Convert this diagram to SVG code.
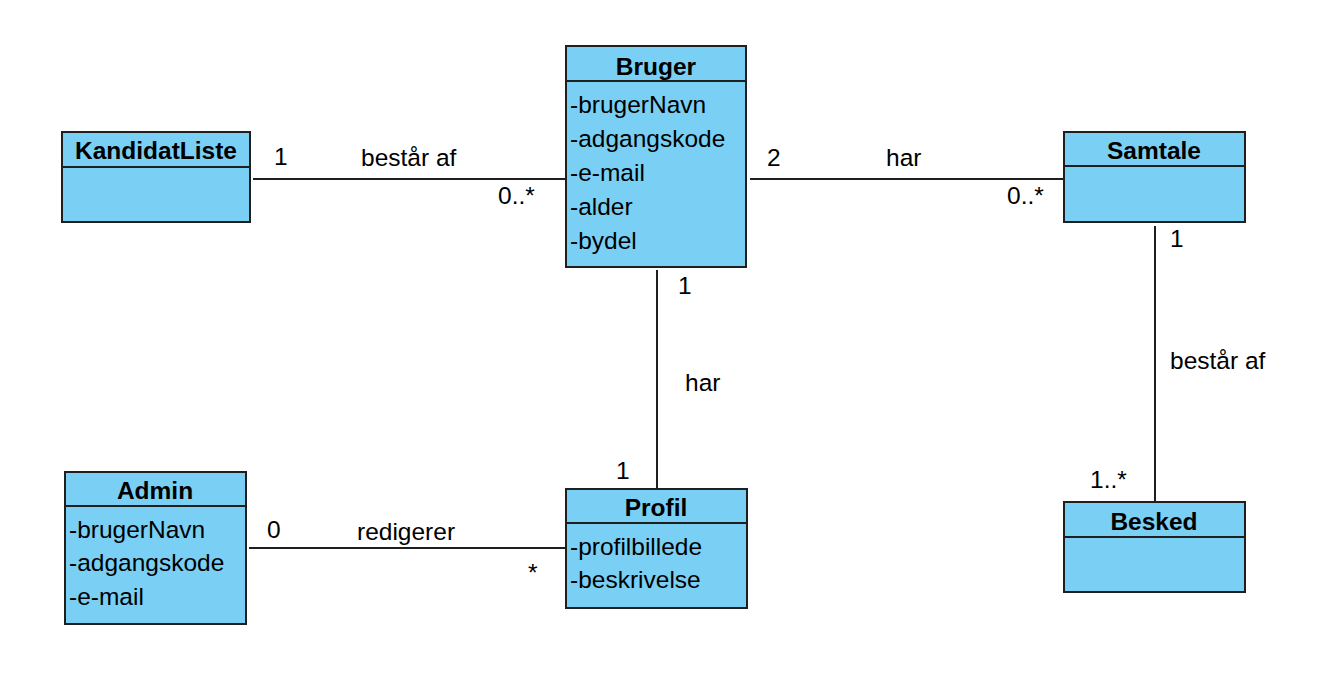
<svg xmlns="http://www.w3.org/2000/svg" width="1329" height="682" viewBox="0 0 1329 682">
<style>
.box{fill:#7acff5;stroke:#1f1f1f;stroke-width:2}
.ln{stroke:#1f1f1f;stroke-width:2;fill:none}
.t{font-family:"Liberation Sans",Arial,sans-serif;font-size:24.5px;fill:#000}
.b{font-weight:bold;text-anchor:middle}
</style>
<rect width="1329" height="682" fill="#fff"/>
<g id="connectors">
<line class="ln" x1="253" y1="179" x2="566" y2="179"/>
<line class="ln" x1="750" y1="179" x2="1064" y2="179"/>
<line class="ln" x1="657" y1="270" x2="657" y2="489"/>
<line class="ln" x1="1155" y1="226" x2="1155" y2="502"/>
<line class="ln" x1="249" y1="548" x2="566" y2="548"/>
<text class="t" x="274" y="165">1</text>
<text class="t" x="361" y="166">består af</text>
<text class="t" x="498" y="204">0..*</text>
<text class="t" x="767" y="166">2</text>
<text class="t" x="886" y="166">har</text>
<text class="t" x="1007" y="204">0..*</text>
<text class="t" x="678" y="294">1</text>
<text class="t" x="685" y="391">har</text>
<text class="t" x="616" y="479">1</text>
<text class="t" x="1170" y="247">1</text>
<text class="t" x="1170" y="369">består af</text>
<text class="t" x="1090" y="488">1..*</text>
<text class="t" x="267" y="538">0</text>
<text class="t" x="357" y="540">redigerer</text>
<text class="t" x="528" y="581">*</text>
</g>
<g id="KandidatListe">
<rect class="box" x="62" y="132" width="188" height="90"/>
<line class="ln" x1="62" y1="167" x2="250" y2="167"/>
<text class="t b" x="156" y="159">KandidatListe</text>
</g>
<g id="Bruger">
<rect class="box" x="566" y="46" width="180" height="221"/>
<line class="ln" x1="566" y1="81" x2="746" y2="81"/>
<text class="t b" x="656" y="75">Bruger</text>
<text class="t" x="570" y="113">-brugerNavn</text>
<text class="t" x="570" y="147">-adgangskode</text>
<text class="t" x="570" y="181">-e-mail</text>
<text class="t" x="570" y="215">-alder</text>
<text class="t" x="570" y="249">-bydel</text>
</g>
<g id="Samtale">
<rect class="box" x="1064" y="132" width="181" height="90"/>
<line class="ln" x1="1064" y1="166" x2="1245" y2="166"/>
<text class="t b" x="1154" y="159">Samtale</text>
</g>
<g id="Besked">
<rect class="box" x="1064" y="502" width="181" height="90"/>
<line class="ln" x1="1064" y1="537" x2="1245" y2="537"/>
<text class="t b" x="1154" y="530">Besked</text>
</g>
<g id="Admin">
<rect class="box" x="65" y="472" width="181" height="152"/>
<line class="ln" x1="65" y1="506" x2="246" y2="506"/>
<text class="t b" x="155" y="499">Admin</text>
<text class="t" x="69" y="538">-brugerNavn</text>
<text class="t" x="69" y="571">-adgangskode</text>
<text class="t" x="69" y="605">-e-mail</text>
</g>
<g id="Profil">
<rect class="box" x="566" y="489" width="181" height="119"/>
<line class="ln" x1="566" y1="523" x2="747" y2="523"/>
<text class="t b" x="656" y="516">Profil</text>
<text class="t" x="570" y="555">-profilbillede</text>
<text class="t" x="570" y="588">-beskrivelse</text>
</g>
</svg>
